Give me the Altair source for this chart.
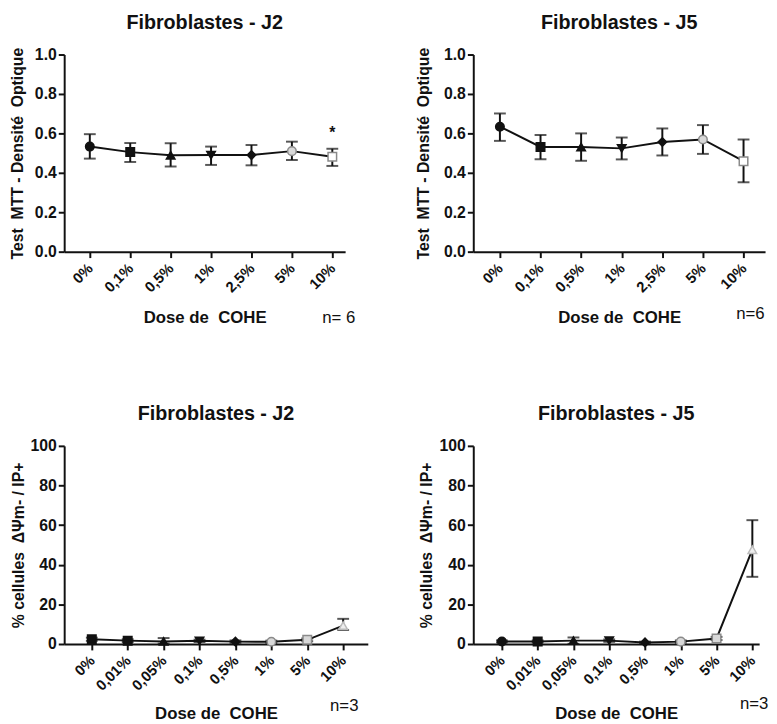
import altair as alt
import pandas as pd

# ---------------- data ----------------
mtt_labels = ["0%", "0,1%", "0,5%", "1%", "2,5%", "5%", "10%"]
mtt_j2_mean = [0.533, 0.505, 0.489, 0.490, 0.490, 0.510, 0.481]
mtt_j2_low = [0.472, 0.455, 0.432, 0.440, 0.438, 0.465, 0.435]
mtt_j2_high = [0.596, 0.551, 0.550, 0.533, 0.541, 0.558, 0.522]

mtt_j5_mean = [0.634, 0.531, 0.531, 0.524, 0.556, 0.569, 0.459]
mtt_j5_low = [0.562, 0.469, 0.461, 0.468, 0.488, 0.496, 0.352]
mtt_j5_high = [0.701, 0.592, 0.600, 0.579, 0.625, 0.642, 0.569]

pct_labels = ["0%", "0,01%", "0,05%", "0,1%", "0,5%", "1%", "5%", "10%"]
pct_j2_mean = [2.4, 1.7, 1.3, 1.6, 1.2, 1.1, 2.1, 9.3]
pct_j2_low = [1.6, 1.0, 0.2, 1.0, 0.6, 0.5, 1.4, 7.1]
pct_j2_high = [3.2, 2.4, 3.0, 2.2, 1.8, 1.7, 2.8, 12.7]

pct_j5_mean = [1.3, 1.3, 1.7, 1.7, 0.8, 1.2, 2.8, 47.6]
pct_j5_low = [0.8, 0.8, 0.1, 1.1, 0.4, 0.6, 2.0, 33.9]
pct_j5_high = [1.8, 1.8, 3.3, 2.3, 1.2, 1.8, 3.6, 62.5]

# ---------------- styles ----------------
BLACK = "#111111"
GREY = "#8a8a8a"
mtt_shapes = ["circle", "square", "triangle-up", "triangle-down", "diamond", "circle", "square"]
mtt_fills = [BLACK, BLACK, BLACK, BLACK, BLACK, "#d8d8d8", "#ffffff"]
mtt_strokes = [BLACK, BLACK, BLACK, BLACK, BLACK, GREY, GREY]
pct_j2_shapes = ["square", "square", "triangle-up", "triangle-down", "diamond", "circle", "square", "triangle-up"]
pct_j5_shapes = ["circle", "square", "triangle-up", "triangle-down", "diamond", "circle", "square", "triangle-up"]
pct_fills = [BLACK, BLACK, BLACK, BLACK, BLACK, "#d8d8d8", "#d8d8d8", "#eeeeee"]
pct_strokes = [BLACK, BLACK, BLACK, BLACK, BLACK, GREY, GREY, "#bbbbbb"]

FONT = "Liberation Sans"
NB = "\u00a0"


def panel(labels, mean, low, high, shapes, fills, strokes, title, ytitle,
          ydomain, yvalues, yfmt, xdomain, width, height, ntext, npos,
          ytitle_pad, xtitle_pad, star=None):
    n = len(labels)
    df = pd.DataFrame({
        "idx": list(range(n)), "label": labels, "mean": mean, "low": low, "high": high,
        "shape": shapes, "fill": fills, "stroke": strokes,
    })
    labels_js = "[" + ",".join("'%s'" % l for l in labels) + "]"
    xscale = alt.Scale(domain=xdomain, nice=False, zero=False)
    yscale = alt.Scale(domain=ydomain, nice=False, zero=False)
    x_axis = alt.Axis(values=list(range(n)), labelExpr=labels_js + "[datum.value]",
                      labelAngle=-45, labelAlign="right", labelBaseline="middle",
                      labelOverlap=False, labelBound=False, labelFlush=False,
                      title="Dose de" + NB + " COHE", grid=False, labelPadding=8,
                      titlePadding=xtitle_pad, labelFontSize=15, titleFontSize=17)
    y_axis = alt.Axis(values=yvalues, format=yfmt, title=ytitle, grid=False,
                      labelOverlap=False, labelFlush=False,
                      labelFontSize=16, titleFontSize=16, titlePadding=ytitle_pad)

    def X():
        return alt.X("idx:Q", scale=xscale, axis=x_axis)

    def Y(field):
        return alt.Y(field + ":Q", scale=yscale, axis=y_axis)

    base = alt.Chart(df)
    line = base.mark_line(color=BLACK, strokeWidth=2).encode(x=X(), y=Y("mean"))
    rule = base.mark_rule(color=BLACK, strokeWidth=2).encode(x=X(), y=Y("low"), y2="high:Q")
    cap_lo = base.mark_tick(color=BLACK, orient="horizontal", size=12, thickness=2).encode(
        x=X(), y=Y("low"))
    cap_hi = base.mark_tick(color=BLACK, orient="horizontal", size=12, thickness=2).encode(
        x=X(), y=Y("high"))
    pts = base.mark_point(size=75, strokeWidth=1.5, opacity=1, filled=False).encode(
        x=X(), y=Y("mean"),
        shape=alt.Shape("shape:N", scale=None),
        fill=alt.Fill("fill:N", scale=None),
        stroke=alt.Stroke("stroke:N", scale=None),
    )
    ann = alt.Chart(pd.DataFrame({"idx": [npos[0]], "mean": [npos[1]], "t": [ntext]})).mark_text(
        font=FONT, fontSize=17, color=BLACK, align="center", baseline="alphabetic"
    ).encode(x=X(), y=Y("mean"), text="t:N")
    layers = [line, rule, cap_lo, cap_hi, pts, ann]
    if star is not None:
        st = alt.Chart(pd.DataFrame({"idx": [star[0]], "mean": [star[1]], "t": ["*"]})).mark_text(
            font=FONT, fontSize=16, fontWeight="bold", color=BLACK, baseline="middle"
        ).encode(x=X(), y=Y("mean"), text="t:N")
        layers.append(st)
    return alt.layer(*layers).properties(
        width=width, height=height,
        title=alt.TitleParams(title, fontSize=20, fontWeight="bold", font=FONT,
                              anchor="middle", offset=14, color=BLACK),
    )


mtt_title = "Test" + NB + " MTT - Densité" + NB + " Optique"
pct_title = "% cellules" + NB + " ΔΨm- / IP+"

p1 = panel(mtt_labels, mtt_j2_mean, mtt_j2_low, mtt_j2_high, mtt_shapes, mtt_fills, mtt_strokes,
           "Fibroblastes - J2", mtt_title, [0, 1],
           [0, 0.2, 0.4, 0.6, 0.8, 1.0], ".1f", [-0.634, 6.317], 285, 200,
           "n= 6", (6.16, -0.36), 9, 15, star=(6.0, 0.60))
p2 = panel(mtt_labels, mtt_j5_mean, mtt_j5_low, mtt_j5_high, mtt_shapes, mtt_fills, mtt_strokes,
           "Fibroblastes - J5", mtt_title, [0, 1],
           [0, 0.2, 0.4, 0.6, 0.8, 1.0], ".1f", [-0.656, 6.53], 296, 200,
           "n=6", (6.17, -0.34), 12, 15)
p3 = panel(pct_labels, pct_j2_mean, pct_j2_low, pct_j2_high, pct_j2_shapes, pct_fills, pct_strokes,
           "Fibroblastes - J2", pct_title, [0, 100],
           [0, 20, 40, 60, 80, 100], "d", [-0.769, 7.686], 308, 201,
           "n=3", (7.03, -34), 4, 13)
p4 = panel(pct_labels, pct_j5_mean, pct_j5_low, pct_j5_high, pct_j5_shapes, pct_fills, pct_strokes,
           "Fibroblastes - J5", pct_title, [0, 100],
           [0, 20, 40, 60, 80, 100], "d", [-0.80, 7.19], 290, 201,
           "n=3", (7.05, -33), 5, 13)

chart = alt.concat(p1, p2, p3, p4, columns=2, spacing={"row": 197, "column": 107},
                   bounds="flush").configure_view(
    stroke=None
).configure_axis(
    domainColor=BLACK, domainWidth=2, tickColor=BLACK, tickWidth=2, tickSize=6,
    labelFont=FONT, labelFontWeight="bold", labelColor=BLACK,
    titleFont=FONT, titleFontWeight="bold", titleColor=BLACK,
).properties(padding={"left": 1, "top": 0, "right": 0, "bottom": 0})

chart.save("out.html", embed_options={"renderer": "svg", "actions": False})
